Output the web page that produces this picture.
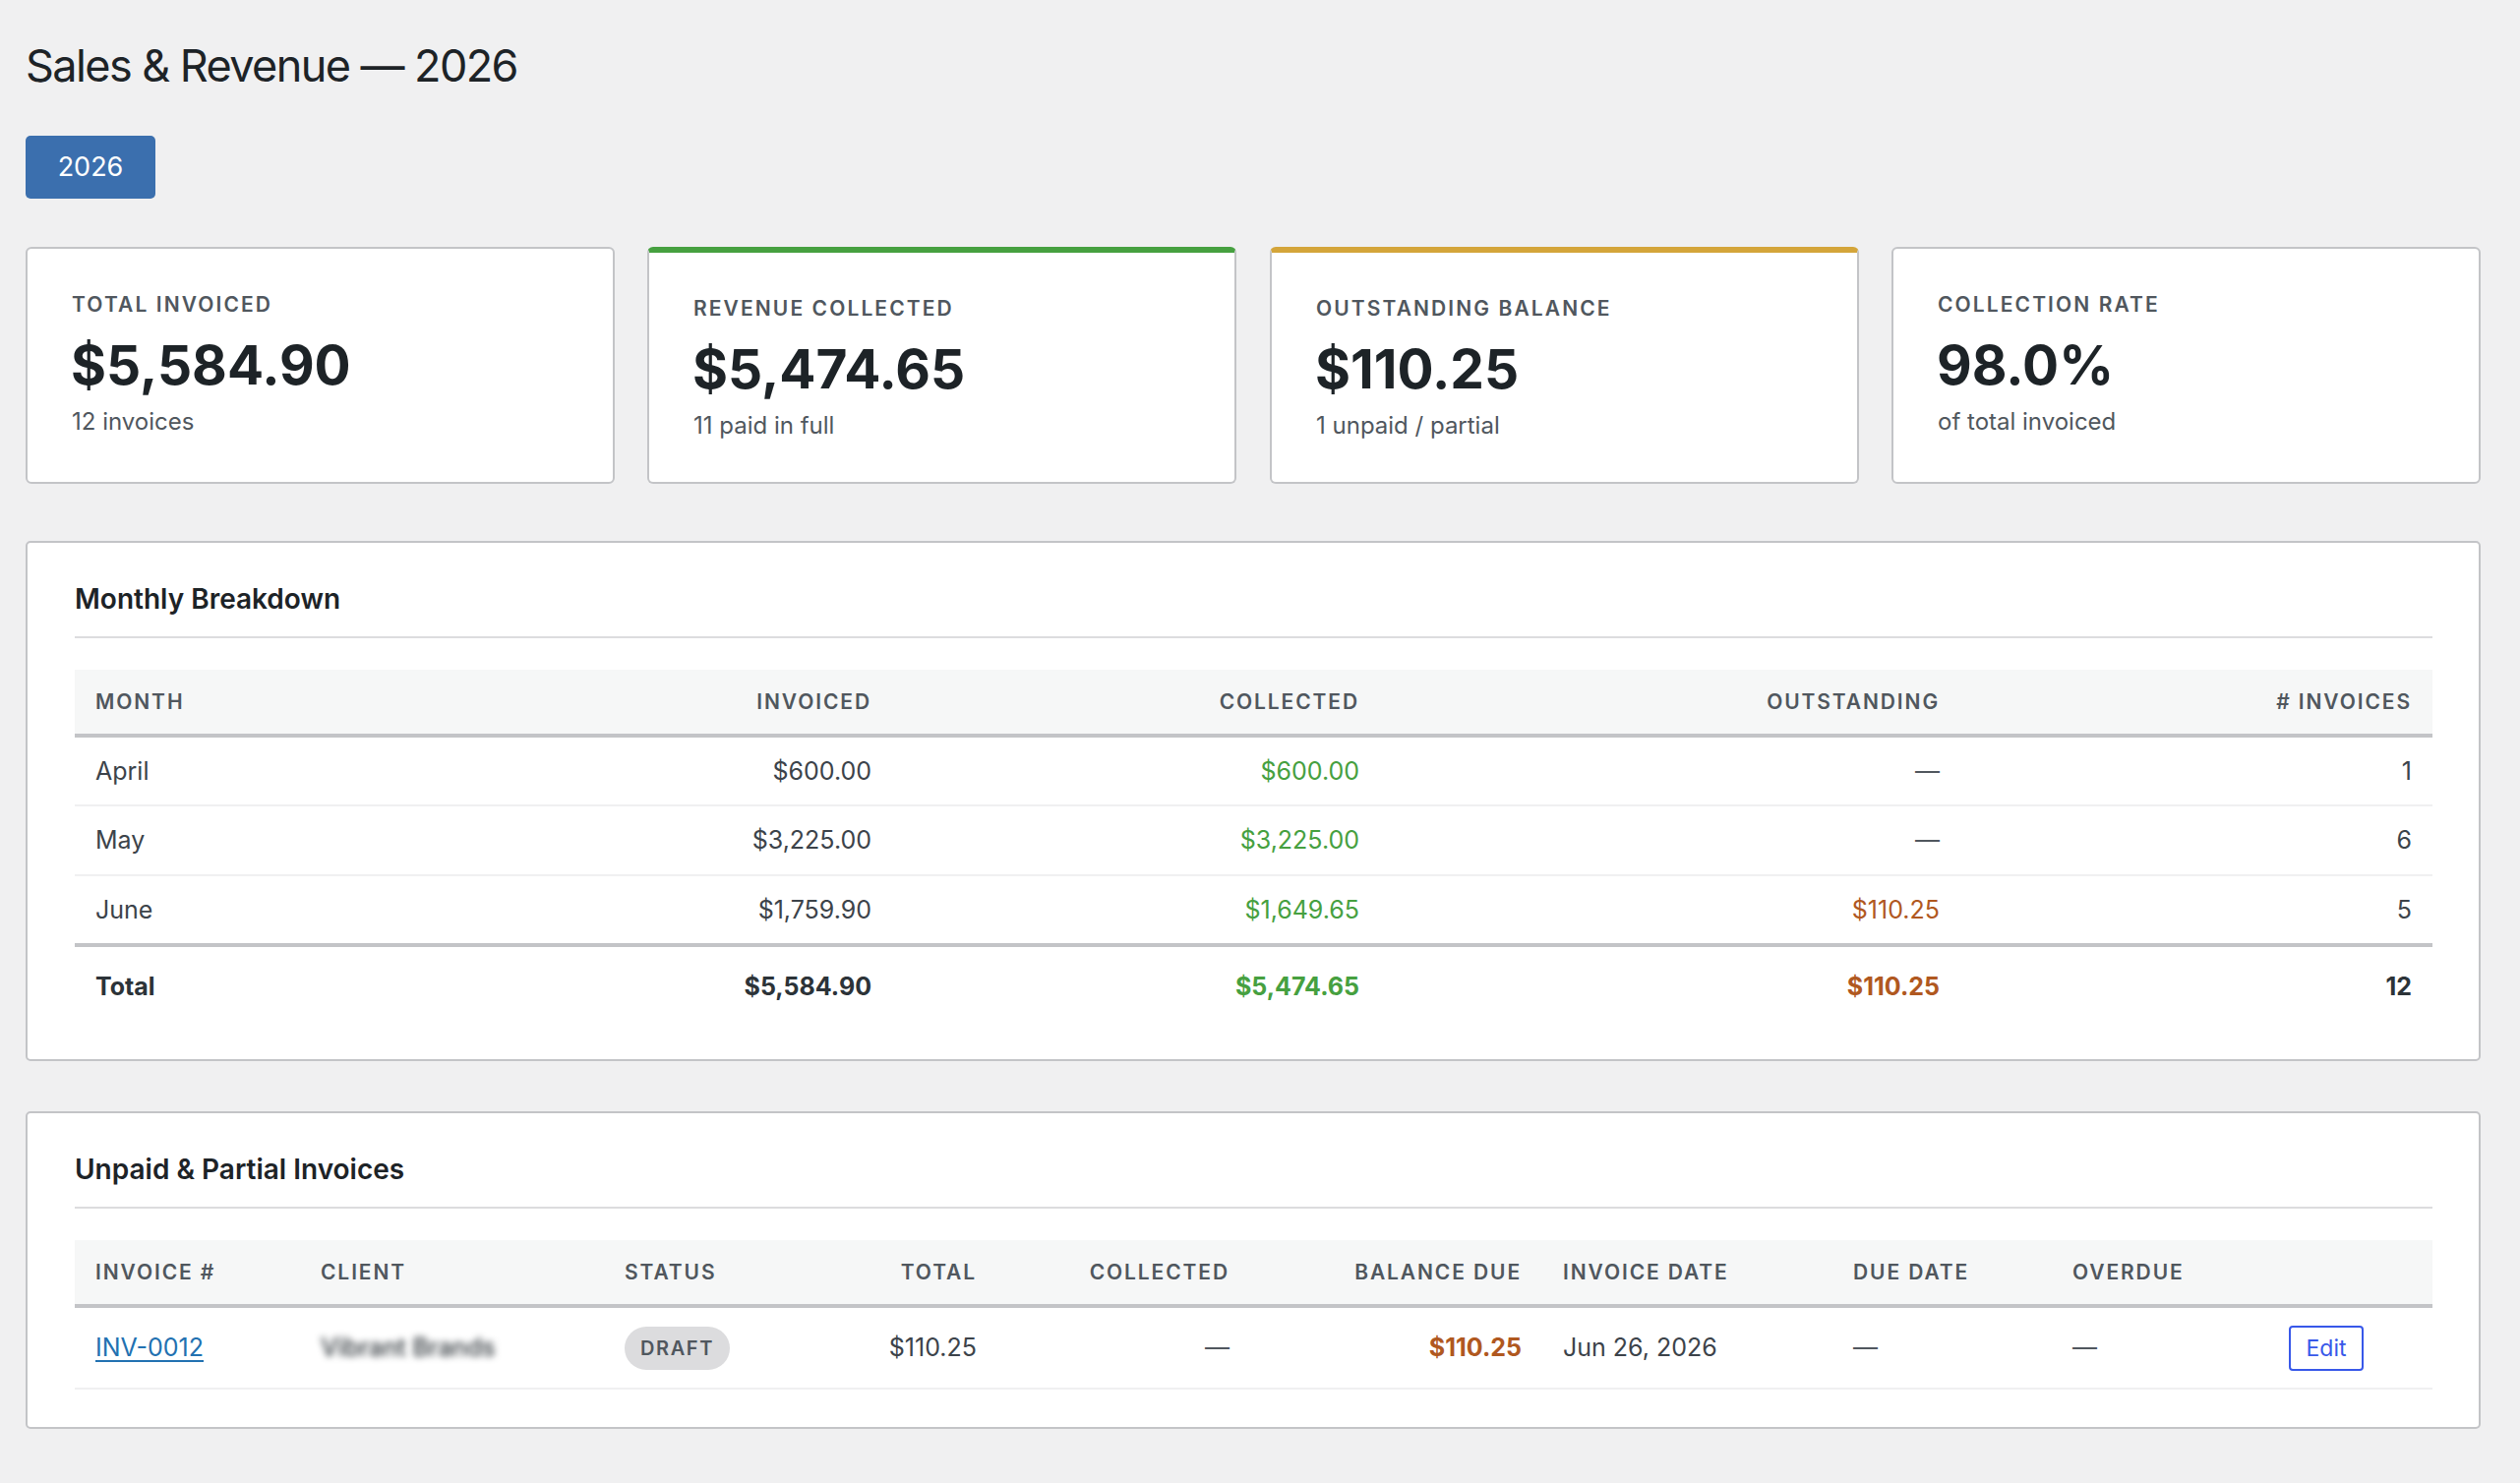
<!DOCTYPE html>
<html>
<head>
<meta charset="utf-8">
<script src="https://cdn.jsdelivr.net/npm/chart.js@4"></script>
<style>
    * { box-sizing: border-box; }
    html, body { margin: 0; padding: 0; }
    body {
        width: 2562px;
        height: 1508px;
        background: #f0f0f1;
        font-family: Inter, "Noto Sans", sans-serif;
        color: #3c434a;
        position: relative;
        overflow: hidden;
    }
    .abs { position: absolute; line-height: 1; white-space: nowrap; }
    h1 {
        position: absolute; margin: 0; left: 26px; top: 44px;
        font-size: 45px; line-height: 45px; font-weight: 400; color: #1d2327;
        letter-spacing: -0.035em;
    }
    .yearBtn {
        position: absolute; left: 26px; top: 138px; width: 132px; height: 64px;
        background: #3b6fae; border-radius: 5px; color: #fff;
        font-size: 27px; line-height: 64px; text-align: center;
    }
    .card {
        position: absolute; top: 251px; width: 599px; height: 241px;
        background: #fff; border: 2px solid #c3c4c7; border-radius: 6px;
    }
    .card .label {
        left: 45px; top: 46px; font-size: 21px; font-weight: 600;
        letter-spacing: 0.1em; color: #50575e;
    }
    .card .value {
        left: 44px; top: 91px; font-size: 55px; font-weight: 700; color: #1d2327;
    }
    .card .sub {
        left: 45px; top: 164px; font-size: 24px; color: #50575e;
    }
    .panel {
        position: absolute; left: 26px; width: 2496px;
        background: #fff; border: 2px solid #c3c4c7; border-radius: 5px;
    }
    .panel .ptitle {
        left: 48px; top: 43px; font-size: 28px; font-weight: 600; color: #1d2327;
    }
    .panel .divider {
        position: absolute; left: 48px; width: 2397px; top: 95px; height: 2px; background: #dcdcde;
    }
    table {
        position: absolute; left: 48px; top: 129px; width: 2397px;
        border-collapse: collapse; table-layout: fixed;
    }
    th {
        background: #f6f7f7; height: 67px; padding: 0 21px;
        font-size: 21px; font-weight: 600; letter-spacing: 0.09em; color: #50575e;
        line-height: 1; text-align: left; vertical-align: middle;
        border-bottom: 4px solid #c3c4c7; white-space: nowrap;
    }
    td {
        padding: 0 21px; font-size: 25px; line-height: 1; vertical-align: middle;
        color: #3c434a; white-space: nowrap; border-bottom: 2px solid #f0f0f1;
    }
    .r { text-align: right; }
    .green { color: #46a040; }
    .orange { color: #b0581f; }
    .dash { color: #50575e; }
    tr.total td { font-weight: 700; border-bottom: none; border-top: 4px solid #c3c4c7; color: #2c3338; }
    tr.total td.green { color: #46a040; }
    tr.total td.orange { color: #b0581f; }
    a.inv { color: #2271b1; text-decoration: underline; text-underline-offset: 4px; text-decoration-thickness: 2px; }
    .blur { filter: blur(3.5px); color: #2c3338; font-weight: 500; }
    .badge {
        display: inline-block; height: 44px; line-height: 44px; padding: 0 16px;
        background: #dcdcde; border-radius: 22px; font-size: 20px; font-weight: 600;
        letter-spacing: 0.08em; color: #50575e;
    }
    .editBtn {
        display: inline-block; width: 76px; height: 46px; line-height: 42px; text-align: center;
        border: 2px solid #3858e9; border-radius: 4px; color: #3858e9; font-size: 23px;
    }
</style>
</head>
<body>
<h1 id="pageTitle"></h1>
<div class="yearBtn" id="yearBtn"></div>
<div id="cards"></div>

<div class="panel" style="top:550px;height:529px;">
    <div class="abs ptitle">Monthly Breakdown</div>
    <div class="divider"></div>
    <table id="monthlyTable"></table>
</div>

<div class="panel" style="top:1130px;height:323px;">
    <div class="abs ptitle">Unpaid &amp; Partial Invoices</div>
    <div class="divider"></div>
    <table id="unpaidTable"></table>
</div>

<script>
// dados do relatório
const reportYear = "2026";

const cardLabels = ["TOTAL INVOICED", "REVENUE COLLECTED", "OUTSTANDING BALANCE", "COLLECTION RATE"];
const cardValues = ["$5,584.90", "$5,474.65", "$110.25", "98.0%"];
const cardNotes = ["12 invoices", "11 paid in full", "1 unpaid / partial", "of total invoiced"];
const cardAccents = [null, "#46a040", "#d4a53a", null];

const months = ["April", "May", "June"];
const invoiced = [600.00, 3225.00, 1759.90];
const collected = [600.00, 3225.00, 1649.65];
const outstanding = [0, 0, 110.25];
const invoiceCounts = [1, 6, 5];

const monthlyHeaders = ["MONTH", "INVOICED", "COLLECTED", "OUTSTANDING", "# INVOICES"];
const monthlyWidths = [415, 416, 496, 590, 480];

const unpaidHeaders = ["INVOICE #", "CLIENT", "STATUS", "TOTAL", "COLLECTED", "BALANCE DUE", "INVOICE DATE", "DUE DATE", "OVERDUE", ""];
const unpaidWidths = [229, 309, 246, 154, 257, 297, 295, 223, 220, 167];
const unpaidInvoices = ["INV-0012"];
const unpaidClients = ["Vibrant Brands"];
const unpaidStatus = ["DRAFT"];
const unpaidTotals = [110.25];
const unpaidCollected = [0];
const unpaidBalance = [110.25];
const unpaidDates = ["Jun 26, 2026"];

function money(v) {
    return "$" + v.toLocaleString("en-US", { minimumFractionDigits: 2, maximumFractionDigits: 2 });
}

function header(cols, widths, alignRight) {
    let html = "<colgroup>" + widths.map(w => `<col style="width:${w}px">`).join("") + "</colgroup>";
    html += "<tr>" + cols.map((c, i) => `<th class="${alignRight[i] ? "r" : ""}">${c}</th>`).join("") + "</tr>";
    return html;
}

function buildCards() {
    const lefts = [26, 658, 1291, 1923];
    let html = "";
    cardLabels.forEach((label, i) => {
        const accent = cardAccents[i] ? `border-top:6px solid ${cardAccents[i]};` : "";
        html += `<div class="card" style="left:${lefts[i]}px;${accent}">
            <div class="abs label">${label}</div>
            <div class="abs value">${cardValues[i]}</div>
            <div class="abs sub">${cardNotes[i]}</div>
        </div>`;
    });
    document.getElementById("cards").innerHTML = html;
}

function buildMonthly() {
    let html = header(monthlyHeaders, monthlyWidths, [false, true, true, true, true]);
    months.forEach((m, i) => {
        const out = outstanding[i] > 0
            ? `<td class="r orange">${money(outstanding[i])}</td>`
            : `<td class="r dash">—</td>`;
        html += `<tr style="height:71px">
            <td>${m}</td>
            <td class="r">${money(invoiced[i])}</td>
            <td class="r green">${money(collected[i])}</td>
            ${out}
            <td class="r">${invoiceCounts[i]}</td>
        </tr>`;
    });
    const sum = arr => arr.reduce((a, b) => a + b, 0);
    html += `<tr class="total" style="height:82px">
        <td>Total</td>
        <td class="r">${money(sum(invoiced))}</td>
        <td class="r green">${money(sum(collected))}</td>
        <td class="r orange">${money(sum(outstanding))}</td>
        <td class="r">${sum(invoiceCounts)}</td>
    </tr>`;
    document.getElementById("monthlyTable").innerHTML = html;
}

function buildUnpaid() {
    let html = header(unpaidHeaders, unpaidWidths, [false, false, false, true, true, true, false, false, false, false]);
    unpaidInvoices.forEach((inv, i) => {
        html += `<tr style="height:84px">
            <td><a class="inv">${inv}</a></td>
            <td><span class="blur">${unpaidClients[i]}</span></td>
            <td><span class="badge">${unpaidStatus[i]}</span></td>
            <td class="r">${money(unpaidTotals[i])}</td>
            <td class="r dash">${unpaidCollected[i] > 0 ? money(unpaidCollected[i]) : "—"}</td>
            <td class="r orange" style="font-weight:700">${money(unpaidBalance[i])}</td>
            <td>${unpaidDates[i]}</td>
            <td class="dash">—</td>
            <td class="dash">—</td>
            <td><span class="editBtn">Edit</span></td>
        </tr>`;
    });
    document.getElementById("unpaidTable").innerHTML = html;
}

function load() {
    document.getElementById("pageTitle").textContent = "Sales & Revenue — " + reportYear;
    document.getElementById("yearBtn").textContent = reportYear;
    buildCards();
    buildMonthly();
    buildUnpaid();
}

load();
</script>
</body>
</html>
